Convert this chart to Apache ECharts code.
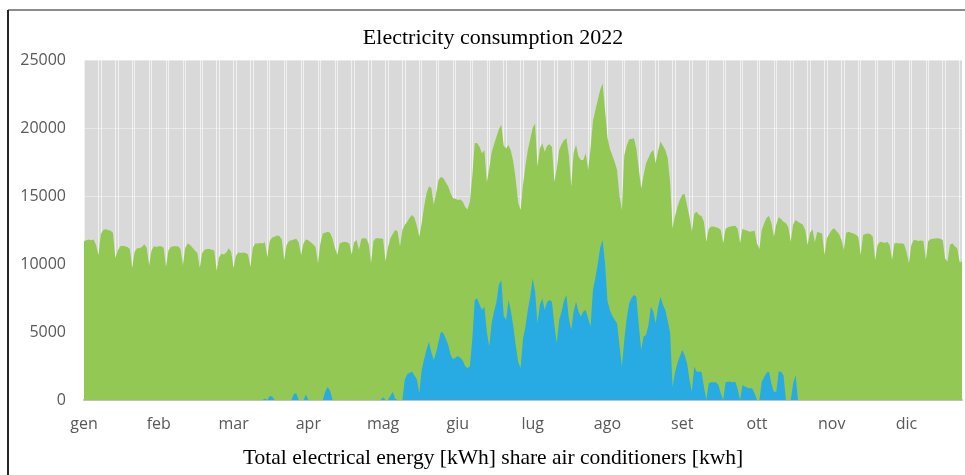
<!DOCTYPE html>
<html><head><meta charset="utf-8">
<script src="https://cdn.jsdelivr.net/npm/echarts@6/dist/echarts.min.js"></script>
<style>html,body{margin:0;padding:0;background:#fff}#c{width:965px;height:475px}</style>
</head><body><div id="c"></div>
<script>
const monthLabels = ['gen','feb','mar','apr','mag','giu','lug','ago','set','ott','nov','dic'];
const titleText = 'Electricity consumption 2022';
const legendText = 'Total electrical energy [kWh] share air conditioners [kwh]';

// Total electrical energy [kWh], one value per day (365)
const totalEnergy = [
11700,11750,11800,11750,11800,11400,10650,
12200,12500,12550,12500,12450,12300,10450,
11000,11300,11350,11300,11250,11100,9700,
10900,11150,11150,11250,11450,11200,9900,
11000,11300,11250,11300,11300,11200,9800,
11000,11250,11300,11300,11300,11100,9900,
11200,11500,11400,11200,11000,10800,9700,
10800,11050,11100,11100,11050,11000,9500,
10500,10750,10700,10850,11150,10900,9700,
10600,10850,10800,10850,10800,10700,9800,
11200,11500,11500,11550,11500,11600,10500,
11700,11950,12000,12100,12050,11800,10300,
11400,11700,11750,11800,11850,11600,10650,
11500,11800,11750,11600,11450,11250,10050,
11500,12250,12300,12380,12300,11900,11200,
10660,11500,11600,11640,11600,11500,10700,
11600,11760,11050,11850,11900,11880,11500,
10050,11700,11890,11900,11880,11850,10200,
11200,11900,12200,12500,12400,11275,12500,
12860,13100,13400,13600,13400,12800,12010,
13000,14200,15200,15690,15600,14340,15200,
16200,16400,16300,16000,15700,15200,14830,
14800,14700,14750,14600,14200,14000,14600,
16500,18870,18900,18600,18140,18380,16000,
17000,18200,18800,19360,19900,20220,18700,
18500,18750,18300,17500,16200,14500,13970,
15800,17200,18380,19200,20000,20340,17160,
18500,18870,18260,18700,18800,18600,16050,
17000,18380,18800,19100,19240,18000,15690,
18200,18750,17900,17650,17650,18140,16910,
18500,20500,21300,22060,22800,23280,21320,
19300,18500,18000,17500,16910,15000,13970,
18000,18700,19170,19200,19240,18500,17000,
15560,16500,17400,17800,18200,18380,17400,
18300,19000,18700,18380,17800,16000,12620,
13500,14200,14700,15100,15150,14300,13500,
12380,13700,13850,13600,13530,13100,11640,
12600,12750,12750,12700,12650,12500,11520,
12600,12700,12750,12800,12820,12600,11520,
12600,12500,12450,12380,12400,12450,11500,
11100,12500,13000,13400,13530,13000,12010,
12900,13430,13300,13100,13000,12700,11640,
12900,13240,13100,13000,12910,12500,11400,
12300,12550,11600,12380,12300,12250,10660,
11900,12200,12500,12620,12400,12200,11800,
11030,12300,12380,12300,12250,12150,12000,
10660,12130,12200,12250,12200,12000,10290,
11400,11640,11600,11550,11640,11400,10290,
11520,11550,11500,11520,11450,10900,10050,
11400,11760,11750,11700,11720,11690,10290,
11700,11820,11850,11870,11890,11850,11760,
10410,10170,11400,11520,11300,11150,10170,
10170
];

// Share of air conditioners [kWh], one value per day (365)
const airConditioners = [
0,0,0,0,0,0,0,
0,0,0,0,0,0,0,
0,0,0,0,0,0,0,
0,0,0,0,0,0,0,
0,0,0,0,0,0,0,
0,0,0,0,0,0,0,
0,0,0,0,0,0,0,
0,0,0,0,0,0,0,
0,0,0,0,0,0,0,
0,0,0,0,0,0,0,
0,0,0,0,0,100,0,
300,250,0,0,0,0,0,
0,0,0,450,500,0,0,
0,400,0,0,0,0,0,
0,0,600,950,700,0,0,
0,0,0,0,0,0,0,
0,0,0,0,0,0,0,
0,0,0,0,0,200,0,
0,300,600,100,0,0,0,
1500,1900,2000,2080,1800,1500,490,
2200,3000,3700,4290,3500,2940,3500,
4300,5020,4900,4500,4040,3300,3000,
3100,3240,3100,2900,2500,2330,2500,
4500,7350,7470,7000,6620,6860,5000,
3920,5640,6500,7200,8500,8800,6200,
5880,7350,6500,5390,4000,2800,2330,
4500,5390,6620,7600,8950,8000,5640,
7000,7470,6620,7200,7350,7230,5500,
4170,5880,6500,7300,7720,6000,5150,
6500,7230,6500,6130,6500,6620,6000,
5390,8090,8970,10000,11200,11760,10050,
7300,6620,6200,5900,5640,4000,2450,
4410,6000,7100,7500,7720,7600,5500,
3680,4660,4780,5500,6860,6500,5640,
6800,7600,7000,6620,5800,4900,980,
2000,2700,3200,3680,3300,2700,1500,
610,2450,2080,2080,2080,1000,0,
1230,1300,1300,1300,1100,500,0,
1300,1350,1350,1300,1350,800,0,
1100,1000,900,860,860,500,0,
0,1350,1700,2000,2080,1200,610,
610,2080,2080,1800,0,0,0,
1200,1840,0,0,0,0,0,
0,0,0,0,0,0,0,
0,0,0,0,0,0,0,
0,0,0,0,0,0,0,
0,0,0,0,0,0,0,
0,0,0,0,0,0,0,
0,0,0,0,0,0,0,
0,0,0,0,0,0,0,
0,0,0,0,0,0,0,
0,0,0,0,0,0,0,
0
];

const days = totalEnergy.map((_, i) => String(i + 1));

const chart = echarts.init(document.getElementById('c'), null, {renderer: 'canvas'});
chart.setOption({
  animation: false,
  graphic: [
    {type: 'line', shape: {x1: 8, y1: 10, x2: 965, y2: 10}, style: {stroke: '#8c8c8c', lineWidth: 2}},
    {type: 'line', shape: {x1: 8, y1: 10, x2: 8, y2: 475}, style: {stroke: '#262626', lineWidth: 2}},
    {type: 'text', x: 493, y: 38, style: {text: titleText, font: '22px "Liberation Serif"', fill: '#000', align: 'center', verticalAlign: 'middle'}},
    {type: 'text', x: 493, y: 458, style: {text: legendText, font: '21.5px "Liberation Serif"', fill: '#000', align: 'center', verticalAlign: 'middle'}}
  ],
  grid: {left: 84, right: 3, top: 60, bottom: 75, show: true, backgroundColor: '#d9d9d9', borderWidth: 0},
  xAxis: {
    type: 'category', data: days, boundaryGap: false,
    axisLine: {lineStyle: {color: '#bfbfbf', width: 2}},
    axisTick: {show: false},
    axisLabel: {
      interval: (i) => i % 31 === 0,
      formatter: (v, i) => monthLabels[Math.round(i / 31)],
      color: '#595959', fontSize: 16, fontFamily: 'Open Sans', margin: 16
    },
    splitLine: {show: true, interval: (i) => (i % 7 === 0 || i % 7 === 6), lineStyle: {color: 'rgba(255,255,255,0.6)', width: 1}}
  },
  yAxis: {
    type: 'value', min: 0, max: 25000, interval: 5000,
    axisLine: {show: false}, axisTick: {show: false},
    axisLabel: {color: '#595959', fontSize: 16, fontFamily: 'Open Sans', margin: 18, formatter: (v) => String(v)},
    splitLine: {lineStyle: {color: '#e8e8e8', width: 1}}
  },
  series: [
    {type: 'line', name: 'Total', data: totalEnergy, symbol: 'none', silent: true,
     lineStyle: {width: 0}, itemStyle: {color: '#92c853'}, areaStyle: {color: '#92c853', opacity: 1}},
    {type: 'line', name: 'AC', data: airConditioners, symbol: 'none', silent: true,
     lineStyle: {width: 0}, itemStyle: {color: '#27abe2'}, areaStyle: {color: '#27abe2', opacity: 1}}
  ]
});
</script>
</body></html>
